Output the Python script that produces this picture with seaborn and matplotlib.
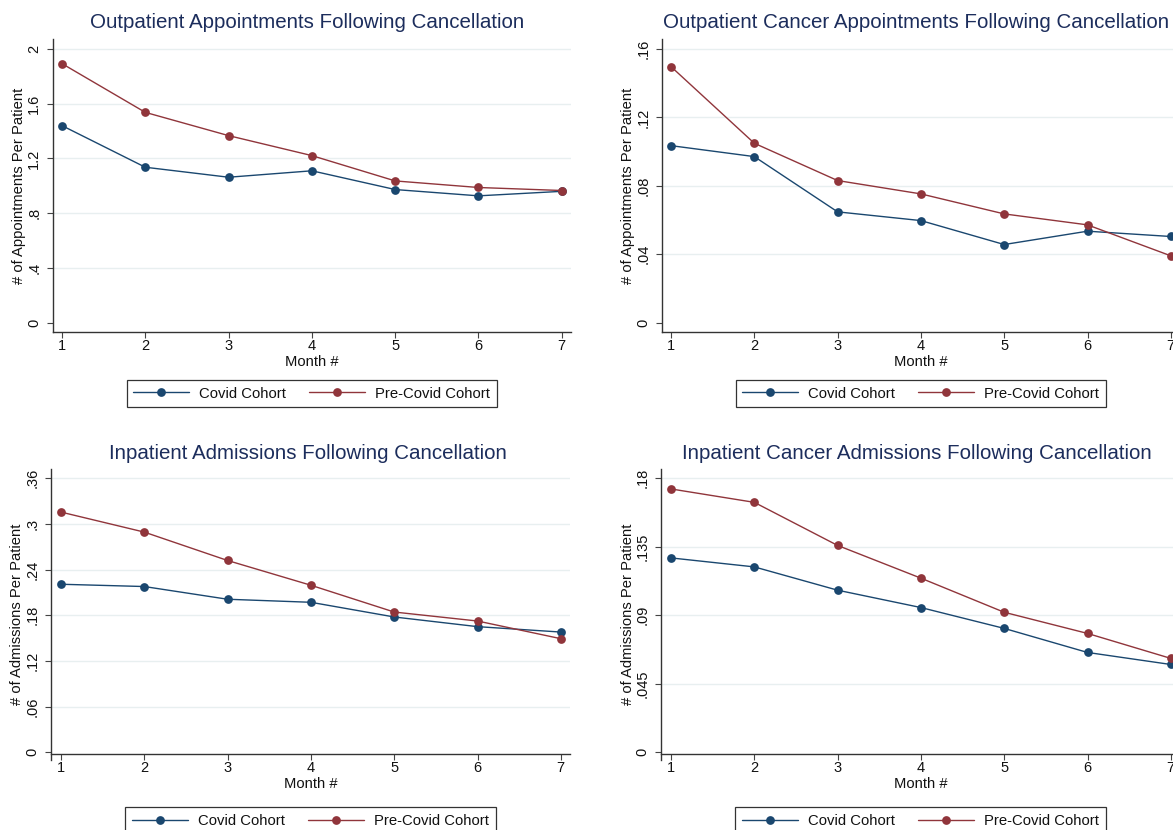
import matplotlib
matplotlib.use("Agg")
import matplotlib.pyplot as plt
import pandas as pd
import seaborn as sns

# ---------------- data ----------------
months = [1, 2, 3, 4, 5, 6, 7]
cohorts = ["Covid Cohort", "Pre-Covid Cohort"]

op_covid = [1.440, 1.136, 1.063, 1.110, 0.973, 0.927, 0.960]
op_pre = [1.893, 1.537, 1.367, 1.221, 1.036, 0.988, 0.966]

opc_covid = [0.1035, 0.0971, 0.0648, 0.0597, 0.0457, 0.0535, 0.0504]
opc_pre = [0.1497, 0.1049, 0.0831, 0.0753, 0.0636, 0.0572, 0.0391]

ip_covid = [0.2208, 0.2178, 0.2011, 0.1971, 0.1778, 0.1651, 0.1580]
ip_pre = [0.3156, 0.2893, 0.2520, 0.2195, 0.1843, 0.1725, 0.1493]

ipc_covid = [0.1277, 0.1218, 0.1065, 0.0951, 0.0814, 0.0656, 0.0577]
ipc_pre = [0.1730, 0.1642, 0.1359, 0.1144, 0.0920, 0.0781, 0.0617]

op_ticks = [0, 0.4, 0.8, 1.2, 1.6, 2.0]
op_labels = ["0", ".4", ".8", "1.2", "1.6", "2"]
opc_ticks = [0, 0.04, 0.08, 0.12, 0.16]
opc_labels = ["0", ".04", ".08", ".12", ".16"]
ip_ticks = [0, 0.06, 0.12, 0.18, 0.24, 0.30, 0.36]
ip_labels = ["0", ".06", ".12", ".18", ".24", ".3", ".36"]
ipc_ticks = [0, 0.045, 0.09, 0.135, 0.18]
ipc_labels = ["0", ".045", ".09", ".135", ".18"]

titles = ["Outpatient Appointments Following Cancellation",
          "Outpatient Cancer Appointments Following Cancellation",
          "Inpatient Admissions Following Cancellation",
          "Inpatient Cancer Admissions Following Cancellation"]
ylabels = ["# of Appointments Per Patient", "# of Appointments Per Patient",
           "# of Admissions Per Patient", "# of Admissions Per Patient"]
xlabel = "Month #"

# ---------------- style ----------------
sns.set_theme(style="white")
plt.rcParams["font.family"] = ["Liberation Sans", "DejaVu Sans"]

NAVY = "#1a476f"
MAROON = "#90353b"
TITLE_C = "#1c2d5c"
GRID_C = "#e8eff0"
AXIS_C = "#333333"
TEXT_C = "#111111"

W, H = 1173, 830
fig = plt.figure(figsize=(W / 100, H / 100), dpi=100)
fig.patch.set_facecolor("white")

# layout in pixels: (axis left, axis top, axis bottom, width, title cx, title cy,
#                    pad top frac, pad bottom frac, spine offset frac)
layout = [
    (52.7, 39.3, 332.3, 518.3, 307.5, 23.0, 0.0354, 0.035, None),
    (661.7, 39.3, 332.3, 518.3, 916.5, 23.0, 0.0354, 0.035, None),
    (51.0, 469.3, 760.0, 519.0, 307.5, 453.3, 0.0328, 0.028, 0.0073),
    (661.0, 469.3, 760.0, 519.0, 916.5, 453.3, 0.0328, 0.028, 0.0073),
]

series = [(op_covid, op_pre, op_ticks, op_labels),
          (opc_covid, opc_pre, opc_ticks, opc_labels),
          (ip_covid, ip_pre, ip_ticks, ip_labels),
          (ipc_covid, ipc_pre, ipc_ticks, ipc_labels)]

for i, ((cov, pre, ticks, tlabels), lay) in enumerate(zip(series, layout)):
    xl, yt, yb, wpx, tcx, tcy, ptop, pbot, soff = lay
    rect = [xl / W, 1 - yb / H, wpx / W, (yb - yt) / H]
    ax = fig.add_axes(rect)
    ax.set_facecolor("white")

    df = pd.DataFrame({
        "Month": months * 2,
        "Value": cov + pre,
        "Cohort": [cohorts[0]] * len(months) + [cohorts[1]] * len(months),
    })
    sns.lineplot(data=df, x="Month", y="Value", hue="Cohort", hue_order=cohorts,
                 palette=[NAVY, MAROON], marker="o", markersize=6.3,
                 markeredgewidth=0, linewidth=1.0, legend=False,
                 errorbar=None, ax=ax, zorder=3)
    handles = list(ax.lines[:2])

    tmax = ticks[-1]
    ax.set_ylim(-pbot * tmax, tmax * (1 + ptop))
    px_per_month = 83.3
    pad_m = (9.3 if i < 2 else 10.0) / px_per_month
    ax.set_xlim(months[0] - pad_m, months[0] - pad_m + wpx / px_per_month)

    for t in ticks[1:]:
        ax.axhline(t, color=GRID_C, lw=1.0, zorder=0)

    ax.set_yticks(ticks)
    ax.set_yticklabels(tlabels, rotation=90, va="center")
    ax.set_xticks(months)
    ax.set_xticklabels([str(m) for m in months])

    for s in ["top", "right"]:
        ax.spines[s].set_visible(False)
    for s in ["left", "bottom"]:
        ax.spines[s].set_color(AXIS_C)
        ax.spines[s].set_linewidth(1.0)
    if soff is not None:
        ax.spines["bottom"].set_position(("data", -soff * tmax))

    ax.tick_params(axis="both", direction="out", length=4.3, width=0.8,
                   color="#444444", labelsize=10.5, labelcolor=TEXT_C,
                   bottom=True, left=True)
    ax.tick_params(axis="y", pad=4)
    ax.tick_params(axis="x", pad=0.5)

    ax.set_xlabel(xlabel, fontsize=10.6, color=TEXT_C, labelpad=1.5)
    ax.set_ylabel(ylabels[i], fontsize=10.6, color=TEXT_C)
    ax.yaxis.set_label_coords(-33.5 / wpx, 0.5)
    ax.yaxis.label.set_va("center")

    leg = ax.legend(handles, cohorts, loc="center", bbox_to_anchor=(0.5, -0.209),
                    ncol=2, frameon=True, fancybox=False, edgecolor=AXIS_C,
                    framealpha=1, fontsize=10.7, handlelength=3.77,
                    handletextpad=0.67, columnspacing=1.55, borderpad=0.45,
                    numpoints=1)
    leg.get_frame().set_linewidth(0.9)
    for t in leg.get_texts():
        t.set_color(TEXT_C)

    fig.text(tcx / W, 1 - tcy / H, titles[i], ha="center", va="center",
             fontsize=14.8, color=TITLE_C)

fig.savefig("out.png", dpi=100, facecolor="white")
